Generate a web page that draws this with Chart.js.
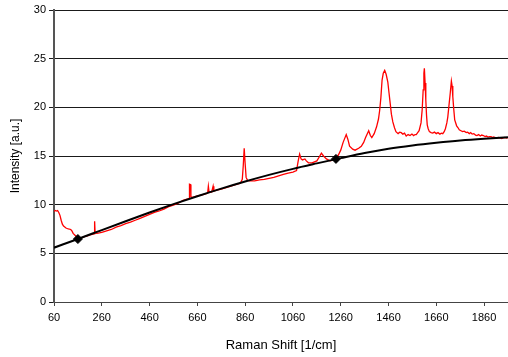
<!DOCTYPE html>
<html>
<head>
<meta charset="utf-8">
<script src="https://cdn.jsdelivr.net/npm/chart.js@4/dist/chart.umd.min.js"></script>
<style>
html,body{margin:0;padding:0;background:#fff;}
#wrap{width:508px;height:357px;}
</style>
</head>
<body>
<div id="wrap"><canvas id="c" width="508" height="357"></canvas></div>
<script>
// Raman spectrum (red)
const specX = [60,65,70,75,80,85,90,95,100,110,120,130,135,140,150,160,170,180,190,200,210,220,228,230,232,240,260,280,300,320,340,360,380,400,420,440,460,480,500,520,540,560,580,600,620,626,627,632,633,640,660,680,700,703,706,709,720,726,729,740,760,780,800,820,840,848,852,856,860,864,870,880,900,920,940,960,980,1000,1020,1040,1060,1075,1082,1088,1094,1100,1110,1116,1125,1140,1160,1170,1179,1188,1200,1215,1230,1240,1250,1260,1270,1283,1290,1297,1310,1320,1335,1346,1356,1364,1377,1384,1390,1400,1410,1418,1423,1428,1433,1438,1444,1450,1457,1462,1467,1472,1478,1485,1491,1500,1507,1513,1520,1527,1534,1542,1550,1558,1565,1571,1576,1582,1588,1596,1601,1605,1608,1610,1613,1616,1619,1622,1626,1631,1638,1645,1652,1660,1667,1675,1681,1687,1693,1698,1704,1708,1713,1718,1723,1726,1729,1733,1737,1745,1751,1756,1763,1770,1777,1785,1791,1798,1804,1810,1817,1824,1830,1837,1844,1850,1857,1864,1870,1876,1882,1889,1895,1900,1907,1914,1920,1927,1934,1940,1947,1953,1960];
const specY = [9.3,9.4,9.35,9.4,9.2,8.9,8.4,8.0,7.8,7.6,7.5,7.45,7.3,7.05,6.8,6.55,6.6,6.65,6.75,6.8,6.9,6.95,7.0,8.3,7.1,7.05,7.15,7.3,7.45,7.7,7.85,8.05,8.2,8.4,8.6,8.8,9.0,9.2,9.35,9.55,9.8,9.95,10.15,10.45,10.6,10.65,12.1,12.05,10.8,10.75,10.9,11.0,11.15,11.2,11.9,11.3,11.3,11.9,11.4,11.5,11.6,11.75,11.9,12.05,12.2,12.6,14.0,15.8,14.2,12.8,12.5,12.45,12.45,12.55,12.6,12.7,12.8,12.95,13.1,13.25,13.35,13.5,14.5,15.2,14.7,14.6,14.7,14.5,14.3,14.3,14.5,14.9,15.3,15.0,14.7,14.5,14.6,14.8,15.1,15.6,16.4,17.2,16.7,16.0,15.7,15.6,15.8,16.0,16.4,16.9,17.6,17.1,16.9,17.3,18.0,18.8,19.7,21.0,22.8,23.5,23.8,23.4,22.6,21.5,20.4,19.3,18.5,17.9,17.5,17.3,17.45,17.4,17.25,17.35,17.05,17.2,17.1,17.25,17.1,17.2,17.2,17.4,17.6,18.4,19.8,21.8,23.5,24.0,22.5,20.75,19.2,18.2,17.8,17.5,17.4,17.35,17.45,17.3,17.4,17.25,17.35,17.3,17.5,17.8,18.4,19.0,20.2,21.4,22.7,22.2,21.1,19.8,18.7,18.1,17.9,17.7,17.6,17.5,17.55,17.4,17.45,17.3,17.4,17.25,17.3,17.15,17.1,17.2,17.05,17.15,17.1,17.0,17.05,16.95,17.0,17.0,16.9,16.95,16.9,16.85,16.9,16.85,16.8,16.85,16.9,16.85,16.9];
// Fitted baseline (black)
const baseX = [60,160,260,360,460,560,660,760,860,960,1060,1160,1260,1360,1460,1560,1660,1760,1860,1960];
const baseY = [5.58,6.47,7.39,8.3,9.19,10.05,10.87,11.65,12.38,13.06,13.68,14.24,14.78,15.3,15.74,16.08,16.36,16.6,16.78,16.92];
// Baseline anchor points (diamonds)
const anchorX = [160,1240];
const anchorY = [6.47,14.7];
// Axis tick labels
const xTicks = [60,260,460,660,860,1060,1260,1460,1660,1860];
const yTicks = [0,5,10,15,20,25,30];

const toPts = (xs, ys) => xs.map((x, i) => ({x: x, y: ys[i]}));
const FONT = 'Liberation Sans, Arial, sans-serif';

new Chart(document.getElementById('c'), {
  type: 'scatter',
  data: {
    datasets: [
      {
        data: toPts(anchorX, anchorY),
        showLine: false,
        pointStyle: 'rectRot',
        pointRadius: 4.5,
        backgroundColor: '#000',
        borderColor: '#000',
        borderWidth: 1
      },
      {
        data: toPts(baseX, baseY),
        showLine: true,
        borderColor: '#000',
        borderWidth: 2,
        pointRadius: 0,
        cubicInterpolationMode: 'monotone',
        fill: false
      },
      {
        data: toPts(specX, specY),
        showLine: true,
        borderColor: '#ff0000',
        borderWidth: 1.3,
        pointRadius: 0,
        tension: 0,
        fill: false
      }
    ]
  },
  options: {
    responsive: false,
    animation: false,
    devicePixelRatio: 1,
    layout: {autoPadding: false, padding: {top: 10, right: 0, left: 0, bottom: 0}},
    plugins: {legend: {display: false}, tooltip: {enabled: false}},
    scales: {
      x: {
        type: 'linear',
        min: 60, max: 1960,
        afterBuildTicks: (s) => { s.ticks = xTicks.map(v => ({value: v})); },
        afterFit: (s) => { s.height = 55; s.paddingLeft = 0; s.paddingRight = 0; },
        grid: {display: true, drawOnChartArea: false, drawTicks: true, tickLength: 4, color: '#444'},
        border: {display: true, color: '#444', width: 1},
        ticks: {color: '#000', font: {family: FONT, size: 11}, padding: 5, maxRotation: 0, autoSkip: false, callback: (v) => String(v)},
        title: {display: true, text: 'Raman Shift [1/cm]', color: '#000', font: {family: FONT, size: 13}, padding: {top: 7}}
      },
      y: {
        type: 'linear',
        min: 0, max: 30,
        afterBuildTicks: (s) => { s.ticks = yTicks.map(v => ({value: v})); },
        afterFit: (s) => { s.width = 54; s.paddingTop = 0; s.paddingBottom = 0; },
        grid: {display: true, drawOnChartArea: true, drawTicks: true, tickLength: 5, color: '#1a1a1a', lineWidth: 1},
        border: {display: true, color: '#555', width: 2},
        ticks: {color: '#000', font: {family: FONT, size: 11}, padding: 3, callback: (v) => String(v)},
        title: {display: true, text: 'Intensity [a.u.]', color: '#000', font: {family: FONT, size: 12}, padding: {top: 8, bottom: 0}}
      }
    }
  }
});
</script>
</body>
</html>
